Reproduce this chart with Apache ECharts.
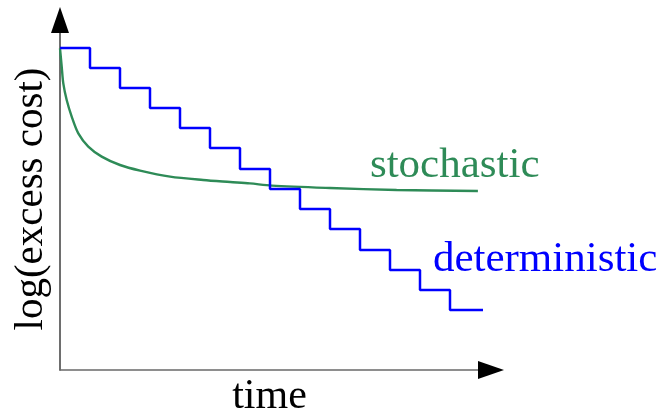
<!DOCTYPE html>
<html>
<head>
<meta charset="utf-8">
<script src="https://cdn.jsdelivr.net/npm/echarts@6/dist/echarts.min.js"></script>
<style>html,body{margin:0;padding:0;background:#fff;}#c{width:660px;height:413px;}</style>
</head>
<body>
<div id="c"></div>
<script>
// Deterministic: piecewise-constant (step) values at each step start time
const detTimes  = [0, 1, 2, 3, 4, 5, 6, 7, 8, 9, 10, 11, 12, 13, 14.1];
const detValues = [16.1, 15.1, 14.1, 13.1, 12.1, 11.1, 10.05, 9.05, 8.05, 7.05, 6.0, 5.0, 4.0, 3.0, 3.0];
// Stochastic: fast initial drop then plateau
const stochTimes  = [0, 0.057, 0.11, 0.223, 0.39, 0.61, 0.943, 1.39, 2.0, 2.67, 3.67, 4.77, 5.67, 6.33, 7.06, 9.0, 11.22, 13.93];
const stochValues = [16.08, 15.17, 14.33, 13.5, 12.67, 11.83, 11.17, 10.67, 10.25, 9.97, 9.67, 9.5, 9.4, 9.33, 9.22, 9.1, 9.0, 8.95];
const axisNames = { x: 'time', y: 'log(excess cost)' };
const seriesNames = ['deterministic', 'stochastic'];
const labelAnchors = { stochastic: [10.33, 10.2], deterministic: [12.43, 5.5] };

const FONT = "'Liberation Serif', 'DejaVu Serif', serif";
const BLUE = '#0000ff', GREEN = '#2e8b57';
const X_MAX = 14.3667, Y_MAX = 17.5;

const zip = (a, b) => a.map((v, i) => [v, b[i]]);

const hiddenBits = {
  axisTick: { show: false }, axisLabel: { show: false }, splitLine: { show: false }
};

const option = {
  animation: false,
  backgroundColor: '#fff',
  grid: { left: 60, right: 169, top: 20, bottom: 43, containLabel: false, outerBoundsMode: 'none' },
  xAxis: [
    Object.assign({
      type: 'value', min: 0, max: X_MAX, position: 'bottom',
      axisLine: { onZero: false, lineStyle: { color: '#6a6a6a', width: 1.6 } },
      name: axisNames.x, nameLocation: 'middle', nameGap: 6,
      nameTextStyle: { fontFamily: FONT, fontSize: 42, color: '#000', padding: [0, 12, 0, 0] }
    }, hiddenBits),
    Object.assign({
      type: 'value', min: 0, max: X_MAX, position: 'bottom',
      axisLine: { onZero: false, symbol: ['none', 'triangle'], symbolSize: [18, 26],
        lineStyle: { color: '#000', width: 0 } }
    }, hiddenBits)
  ],
  yAxis: [
    Object.assign({
      type: 'value', min: 0, max: Y_MAX, position: 'left',
      axisLine: { onZero: false, lineStyle: { color: '#4a4a4a', width: 1.6 } },
      name: axisNames.y, nameLocation: 'middle', nameGap: 8, nameRotate: 90,
      nameTextStyle: { fontFamily: FONT, fontSize: 41, color: '#000', padding: [0, 8, 0, 0] }
    }, hiddenBits),
    Object.assign({
      type: 'value', min: 0, max: Y_MAX, position: 'left',
      axisLine: { onZero: false, symbol: ['none', 'triangle'], symbolSize: [18, 26],
        lineStyle: { color: '#000', width: 0 } }
    }, hiddenBits)
  ],
  series: [
    {
      name: seriesNames[0], type: 'line', step: 'end',
      data: zip(detTimes, detValues), showSymbol: false, symbol: 'none',
      lineStyle: { color: BLUE, width: 2.5 }, z: 3,
      markPoint: {
        symbol: 'circle', symbolSize: 0, silent: true,
        data: [{ coord: labelAnchors.deterministic }],
        label: { show: true, formatter: seriesNames[0], position: 'right', distance: 0,
          fontFamily: FONT, fontSize: 43, color: BLUE }
      }
    },
    {
      name: seriesNames[1], type: 'line', smooth: 0.3,
      data: zip(stochTimes, stochValues), showSymbol: false, symbol: 'none',
      lineStyle: { color: GREEN, width: 2.4 }, z: 2,
      markPoint: {
        symbol: 'circle', symbolSize: 0, silent: true,
        data: [{ coord: labelAnchors.stochastic }],
        label: { show: true, formatter: seriesNames[1], position: 'right', distance: 0,
          fontFamily: FONT, fontSize: 43, color: GREEN }
      }
    }
  ]
};

const chart = echarts.init(document.getElementById('c'), null, { renderer: 'canvas' });
chart.setOption(option);
</script>
</body>
</html>
